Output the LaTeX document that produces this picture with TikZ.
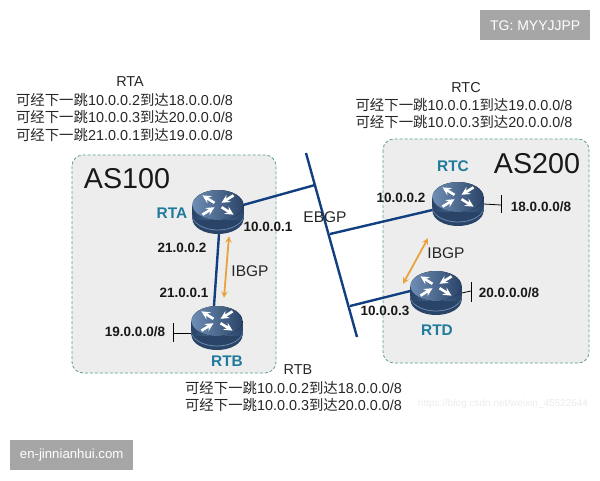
\documentclass[tikz,border=0pt]{standalone}
\usepackage{fontspec}
\setmainfont{Liberation Sans}
\newfontfamily\cjk{Noto Sans CJK SC}
\usepackage{tikz}
\definecolor{asfill}{HTML}{EDEDED}
\definecolor{asedge}{HTML}{5E9C98}
\definecolor{linkblue}{HTML}{123F80}
\definecolor{ibgporange}{HTML}{E8A33D}
\definecolor{namecolor}{HTML}{1F7A9C}
\definecolor{tagfill}{HTML}{A6A6A6}
\definecolor{routerdark}{HTML}{2A4468}
\definecolor{routermid}{HTML}{486A97}
\definecolor{routerlight}{HTML}{6F8EB5}
\newcommand{\hopline}[2]{{\cjk 可经下一跳}#1{\cjk 到达}#2}
\newcommand{\routercell}{\fill[routerdark] (0,7) ellipse [x radius=25.5, y radius=15];
			\fill[left color=routerdark, right color=routerdark, middle color=routermid] (-25.5,-7) rectangle (25.5,7);
			\draw[routerlight, line width=0.8] (-25.5,3) arc [start angle=180, end angle=0, x radius=25.5, y radius=15];
			\draw[routerdark, line width=0.8] (-25.5,1.8) arc [start angle=180, end angle=0, x radius=25.5, y radius=15];
			\fill[left color=routerlight, right color=routerdark] (0,-7) ellipse [x radius=25.5, y radius=15];
			\begin{scope}[yshift=7pt, yscale=0.62]
				\foreach \ang/\tipa in {45/-1, 135/1, 225/-1, 315/1} {
					\begin{scope}[rotate=\ang, xshift=5pt]
						\ifnum\tipa=1
							\draw[white, line width=2.6, -stealth] (0,0) -- (17,0);
						\else
							\draw[white, line width=2.6, stealth-] (0,0) -- (17,0);
						\fi
					\end{scope}
				}
			\end{scope}}
\tikzset{
	asbox/.style={draw=asedge, fill=asfill, dash pattern=on 3pt off 2pt, rounded corners=11pt, line width=0.8},
	routerbox/.style={minimum width=51pt, minimum height=44pt, inner sep=0pt},
	linkline/.style={draw=linkblue, line width=2.4},
	ibgpline/.style={draw=ibgporange, line width=1.8, stealth-stealth},
	stubline/.style={draw=black, line width=0.8},
	addrtext/.style={font=\bfseries\fontsize{13.5}{16}\selectfont, text=black!90},
	nametext/.style={font=\bfseries\fontsize{15.4}{18}\selectfont, text=namecolor},
	peertext/.style={font=\fontsize{15.5}{18}\selectfont, text=black!85},
	astext/.style={font=\fontsize{28.7}{32}\selectfont, text=black!90},
	infotext/.style={font=\fontsize{14.4}{17.5}\selectfont, text=black!85, align=center},
	tagbox/.style={fill=tagfill, text=white, inner sep=0pt, anchor=north west}
}
\begin{document}
\begin{tikzpicture}[x=1pt, y=-1pt]
	\useasboundingbox (0,0) rectangle (600,480);

	\draw[asbox] (72,155) rectangle (276,373);
	\draw[asbox] (383,139) rectangle (589,363);

	\node[routerbox] (rta) at (218,212) {};
	\node[routerbox] (rtb) at (217,328) {};
	\node[routerbox] (rtc) at (458,204) {};
	\node[routerbox] (rtd) at (436,293) {};

	\coordinate (bustop) at (306,153);
	\coordinate (busbot) at (357,337);
	\coordinate (busa) at (315,185);
	\coordinate (busc) at (330,234);
	\coordinate (busd) at (350,306);
	\coordinate (stubb) at (173,333);
	\coordinate (stubc) at (501,205);
	\coordinate (stubd) at (471,291);

	\draw[linkline] (bustop) -- (busbot);
	\draw[linkline] (rta) -- (busa);
	\draw[linkline] (rtc) -- (busc);
	\draw[linkline] ([yshift=2pt]rtd.west) -- (busd);
	\draw[linkline] ([xshift=1pt]rta.south) -- ([xshift=-3pt]rtb.north);

	\draw[stubline] ([yshift=-5pt]rtb.west) -- (stubb);
	\draw[stubline] (rtc.east) -- (stubc);
	\draw[stubline] (rtd.east) -- (stubd);
	\draw[stubline] ([yshift=10pt]stubb) -- ([yshift=-9pt]stubb);
	\draw[stubline] ([yshift=10pt]stubc) -- ([yshift=-8pt]stubc);
	\draw[stubline] ([yshift=9pt]stubd) -- ([yshift=-11pt]stubd);

	\begin{scope}[shift={(rta)}]
		\routercell
	\end{scope}
	\begin{scope}[shift={(rtb)}]
		\routercell
	\end{scope}
	\begin{scope}[shift={(rtc)}]
		\routercell
	\end{scope}
	\begin{scope}[shift={(rtd)}]
		\routercell
	\end{scope}

	\draw[ibgpline] ([xshift=11pt, yshift=-2pt]rta.south) -- ([xshift=7pt, yshift=8pt]rtb.north);
	\draw[ibgpline] ([xshift=-30pt, yshift=-12pt]rtc.south) -- ([xshift=-33pt, yshift=-13pt]rtd.north);

	\node[astext] (as100) at (127,179) {AS100};
	\node[astext] (as200) at (537,164) {AS200};

	\node[nametext] (namea) at (172,213) {RTA};
	\node[nametext] (nameb) at (227,361) {RTB};
	\node[nametext] (namec) at (453,166) {RTC};
	\node[nametext] (named) at (437,330) {RTD};

	\node[addrtext] (addra) at (268,227) {10.0.0.1};
	\node[addrtext] (addrab) at (182,248) {21.0.0.2};
	\node[addrtext] (addrba) at (184,293) {21.0.0.1};
	\node[addrtext] (addrc) at (401,198) {10.0.0.2};
	\node[addrtext] (addrd) at (385,311) {10.0.0.3};
	\node[addrtext] (netb) at (135,332) {19.0.0.0/8};
	\node[addrtext] (netc) at (541,207) {18.0.0.0/8};
	\node[addrtext] (netd) at (509,293) {20.0.0.0/8};

	\node[peertext] (ibgpa) at (250,271) {IBGP};
	\node[peertext] (ibgpc) at (446,253) {IBGP};
	\node[peertext] (ebgp) at (325,217) {EBGP};

	\node[infotext] (titlea) at (130,82) {RTA};
	\node[infotext] (infoa) at (124.5,117.5) {\hopline{10.0.0.2}{18.0.0.0/8}\\\hopline{10.0.0.3}{20.0.0.0/8}\\\hopline{21.0.0.1}{19.0.0.0/8}};
	\node[infotext] (titlec) at (466,88) {RTC};
	\node[infotext] (infoc) at (464,113.5) {\hopline{10.0.0.1}{19.0.0.0/8}\\\hopline{10.0.0.3}{20.0.0.0/8}};
	\node[infotext] (titleb) at (298,370) {RTB};
	\node[infotext] (infob) at (293.5,396.5) {\hopline{10.0.0.2}{18.0.0.0/8}\\\hopline{10.0.0.3}{20.0.0.0/8}};

	\node[font=\fontsize{10}{12}\selectfont, text=black!8] (mark) at (503,404) {https://blog.csdn.net/weixin\_45522644};

	\node[tagbox, minimum width=110pt, minimum height=30pt] (tagtop) at (480,10) {};
	\node[text=white, font=\fontsize{14}{16}\selectfont] (tagtoptext) at (tagtop) {TG: MYYJJPP};
	\node[tagbox, minimum width=123pt, minimum height=30pt] (tagbot) at (10,440) {};
	\node[text=white, font=\fontsize{13.2}{16}\selectfont] (tagbottext) at (tagbot) {en-jinnianhui.com};
\end{tikzpicture}
\end{document}
